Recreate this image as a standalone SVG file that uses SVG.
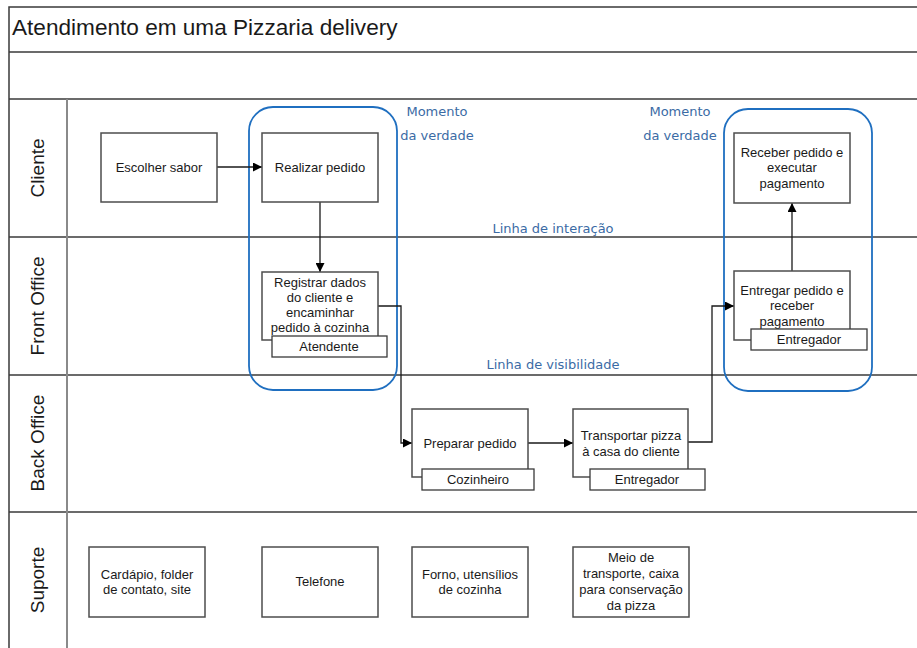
<svg xmlns="http://www.w3.org/2000/svg" width="917" height="648" viewBox="0 0 917 648">
  <style>
    .frame { fill: none; stroke: #3a3a3a; stroke-width: 1.5; }
    .divider { stroke: #8a8a8a; stroke-width: 2; }
    .box { fill: #ffffff; stroke: #4d4d4d; stroke-width: 1.5; }
    .role { fill: #ffffff; stroke: #3a3a3a; stroke-width: 1.3; }
    .moment { fill: none; stroke: #1f6fc0; stroke-width: 1.8; }
    .txt { font-family: "Liberation Sans", Arial, sans-serif; font-size: 13px; fill: #1a1a1a; text-anchor: middle; }
    .lane { font-family: "Liberation Sans", Arial, sans-serif; font-size: 19px; fill: #1a1a1a; text-anchor: middle; }
    .note { font-family: "DejaVu Sans", Verdana, sans-serif; font-size: 13px; fill: #3b6ba5; text-anchor: middle; }
    .title { font-family: "Liberation Sans", Arial, sans-serif; font-size: 22.6px; fill: #1a1a1a; }
    .conn { fill: none; stroke: #1a1a1a; stroke-width: 1.3; }
  </style>
  <defs>
    <marker id="arrow" viewBox="0 0 10 10" refX="10" refY="5" markerWidth="9" markerHeight="9" markerUnits="userSpaceOnUse" orient="auto">
      <path d="M0,0 L10,5 L0,10 z" fill="#000"/>
    </marker>
  </defs>

  <rect width="917" height="648" fill="#ffffff"/>

  <!-- Pool frame, header rows and swimlanes -->
  <g id="pool">
    <rect class="frame" x="9" y="7" width="920" height="660"/>
    <line class="frame" x1="9" y1="52" x2="917" y2="52"/>
    <line class="frame" x1="9" y1="99" x2="917" y2="99"/>
    <line class="frame" x1="9" y1="237" x2="917" y2="237"/>
    <line class="frame" x1="9" y1="375" x2="917" y2="375"/>
    <line class="frame" x1="9" y1="512" x2="917" y2="512"/>
    <line class="divider" x1="67" y1="99" x2="67" y2="648"/>
    <text class="title" x="12" y="35">Atendimento em uma Pizzaria delivery</text>
    <text class="lane" transform="translate(44,168) rotate(-90)">Cliente</text>
    <text class="lane" transform="translate(44,306) rotate(-90)">Front Office</text>
    <text class="lane" transform="translate(44,443) rotate(-90)">Back Office</text>
    <text class="lane" transform="translate(44,580) rotate(-90)">Suporte</text>
    <text class="note" x="553" y="233">Linha de interação</text>
    <text class="note" x="553" y="369">Linha de visibilidade</text>
  </g>

  <!-- Moments of truth -->
  <g id="moment1">
    <rect class="moment" x="249" y="107" width="148" height="283" rx="24" ry="24"/>
    <text class="note" x="437" y="116">Momento</text>
    <text class="note" x="437" y="140">da verdade</text>
  </g>
  <g id="moment2">
    <rect class="moment" x="724" y="109" width="148" height="282" rx="24" ry="24"/>
    <text class="note" x="680" y="116">Momento</text>
    <text class="note" x="680" y="140">da verdade</text>
  </g>

  <!-- Connectors -->
  <g id="connectors">
    <line class="conn" x1="217" y1="167" x2="262" y2="167" marker-end="url(#arrow)"/>
    <line class="conn" x1="320" y1="202" x2="320" y2="272" marker-end="url(#arrow)"/>
    <polyline class="conn" points="378,306 401,306 401,443 412,443" marker-end="url(#arrow)"/>
    <line class="conn" x1="528" y1="443" x2="573" y2="443" marker-end="url(#arrow)"/>
    <polyline class="conn" points="688,442 712,442 712,306 734,306" marker-end="url(#arrow)"/>
    <line class="conn" x1="792" y1="271" x2="792" y2="203" marker-end="url(#arrow)"/>
  </g>

  <!-- Cliente lane -->
  <g id="escolher-sabor">
    <rect class="box" x="101" y="133" width="116" height="69"/>
    <text class="txt" x="159" y="172">Escolher sabor</text>
  </g>
  <g id="realizar-pedido">
    <rect class="box" x="262" y="133" width="116" height="69"/>
    <text class="txt" x="320" y="172">Realizar pedido</text>
  </g>
  <g id="receber-pedido">
    <rect class="box" x="734" y="133" width="116" height="70"/>
    <text class="txt" x="792" y="157">Receber pedido e</text>
    <text class="txt" x="792" y="172">executar</text>
    <text class="txt" x="792" y="188">pagamento</text>
  </g>

  <!-- Front Office lane -->
  <g id="registrar-dados">
    <rect class="box" x="262" y="272" width="116" height="68"/>
    <text class="txt" x="320" y="287">Registrar dados</text>
    <text class="txt" x="320" y="302">do cliente e</text>
    <text class="txt" x="320" y="317">encaminhar</text>
    <text class="txt" x="320" y="332">pedido à cozinha</text>
    <rect class="role" x="272" y="336" width="115" height="21"/>
    <text class="txt" x="329" y="351">Atendente</text>
  </g>
  <g id="entregar-pedido">
    <rect class="box" x="734" y="271" width="116" height="69"/>
    <text class="txt" x="792" y="295">Entregar pedido e</text>
    <text class="txt" x="792" y="310">receber</text>
    <text class="txt" x="792" y="326">pagamento</text>
    <rect class="role" x="751" y="329" width="116" height="21"/>
    <text class="txt" x="809" y="344">Entregador</text>
  </g>

  <!-- Back Office lane -->
  <g id="preparar-pedido">
    <rect class="box" x="412" y="409" width="116" height="68"/>
    <text class="txt" x="470" y="448">Preparar pedido</text>
    <rect class="role" x="422" y="469" width="112" height="21"/>
    <text class="txt" x="478" y="484">Cozinheiro</text>
  </g>
  <g id="transportar-pizza">
    <rect class="box" x="573" y="409" width="115" height="68"/>
    <text class="txt" x="631" y="440">Transportar pizza</text>
    <text class="txt" x="631" y="456">à casa do cliente</text>
    <rect class="role" x="590" y="469" width="115" height="21"/>
    <text class="txt" x="647" y="484">Entregador</text>
  </g>

  <!-- Suporte lane -->
  <g id="cardapio">
    <rect class="box" x="89" y="547" width="116" height="70"/>
    <text class="txt" x="147" y="579">Cardápio, folder</text>
    <text class="txt" x="147" y="594">de contato, site</text>
  </g>
  <g id="telefone">
    <rect class="box" x="262" y="547" width="116" height="70"/>
    <text class="txt" x="320" y="586">Telefone</text>
  </g>
  <g id="forno">
    <rect class="box" x="412" y="547" width="116" height="70"/>
    <text class="txt" x="470" y="579">Forno, utensílios</text>
    <text class="txt" x="470" y="594">de cozinha</text>
  </g>
  <g id="meio-transporte">
    <rect class="box" x="573" y="547" width="116" height="70"/>
    <text class="txt" x="631" y="562">Meio de</text>
    <text class="txt" x="631" y="578">transporte, caixa</text>
    <text class="txt" x="631" y="594">para conservação</text>
    <text class="txt" x="631" y="610">da pizza</text>
  </g>
</svg>
